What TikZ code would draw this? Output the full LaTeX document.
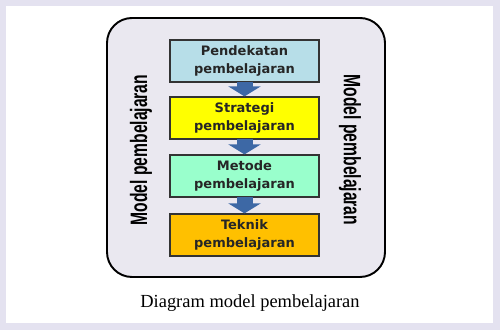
\documentclass[tikz,border=0pt]{standalone}
\usepackage{fontspec}
\setmainfont{Liberation Serif}
\setsansfont{DejaVu Sans}
\newfontfamily\sidefont{Liberation Sans}
\usepackage{tikz}
\usetikzlibrary{arrows.meta, positioning}
\definecolor{framelav}{RGB}{228,226,240}
\definecolor{panelgray}{RGB}{234,232,240}
\definecolor{approachblue}{RGB}{183,222,232}
\definecolor{strategyyellow}{RGB}{255,255,0}
\definecolor{methodgreen}{RGB}{153,255,204}
\definecolor{techorange}{RGB}{255,192,0}
\definecolor{flowblue}{RGB}{61,104,165}

\begin{document}
\begin{tikzpicture}[
    x=0.02cm, y=-0.02cm,
    level/.style={rectangle, draw=black!80, line width=0.9pt, minimum width=2.98cm, minimum height=0.76cm,
        align=center, font=\sffamily\bfseries\fontsize{7.4}{9.8}\selectfont, text=black!85},
    flow/.style={draw=flowblue, line width=0.32cm, -{Triangle[width=0.64cm, length=0.2cm]}, shorten <=-0.5pt},
    side/.style={font=\sidefont\bfseries\fontsize{13.5}{15}\selectfont}
]

% frame and panel
\fill[framelav] (0,0) rectangle (500,330);
\fill[white] (6,6) rectangle (493,323);
\draw[line width=1.1pt, fill=panelgray, rounded corners=0.5cm] (107,18) rectangle (385,277);

% levels
\node[level, fill=approachblue] (approach) at (244.5,61) {Pendekatan\\pembelajaran};
\node[level, fill=strategyyellow] (strategy) at (244.5,118) {Strategi\\pembelajaran};
\node[level, fill=methodgreen] (method) at (244.5,176) {Metode\\pembelajaran};
\node[level, fill=techorange] (technique) at (244.5,235) {Teknik\\pembelajaran};

\draw[flow] (approach) -- (strategy);
\draw[flow] (strategy) -- (method);
\draw[flow] (method) -- (technique);

% side labels
\node[side, rotate=90] (leftlabel) at (141,150) {\scalebox{0.66}[1]{Model pembelajaran}};
\node[side, rotate=-90] (rightlabel) at (350,150) {\scalebox{0.66}[1]{Model pembelajaran}};

\node[font=\fontsize{10.5}{12}\selectfont] (caption) at (250,303) {Diagram model pembelajaran};

\end{tikzpicture}
\end{document}
